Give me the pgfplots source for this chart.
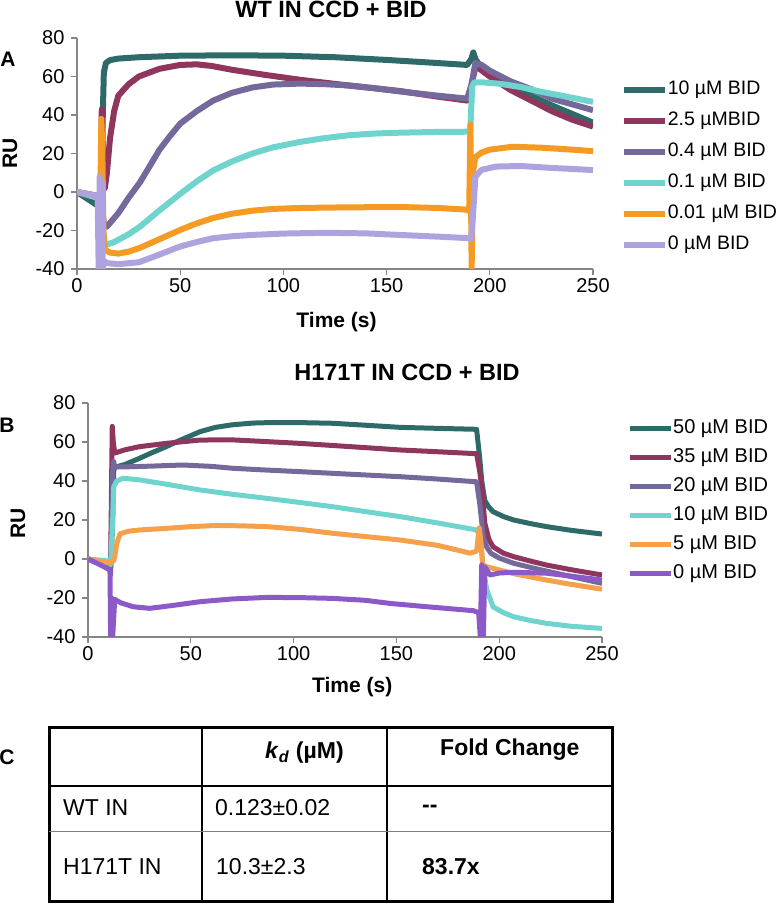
\documentclass[border=0pt]{standalone}
\usepackage{pgfplots}
\pgfplotsset{compat=1.18}
\usepackage{fontspec}
\setmainfont{Liberation Sans}
\definecolor{cTeal}{RGB}{46,107,104}
\definecolor{cMaroon}{RGB}{142,54,94}
\definecolor{cGrape}{RGB}{117,105,155}
\definecolor{cCyan}{RGB}{111,212,206}
\definecolor{cOrangeA}{RGB}{245,155,35}
\definecolor{cLav}{RGB}{174,163,222}
\definecolor{cOrangeB}{RGB}{245,160,75}
\definecolor{cViolet}{RGB}{140,90,200}
\definecolor{cAxis}{RGB}{134,134,134}
\pgfplotsset{
  panel/.style={
    scale only axis,
    axis x line*=bottom, axis y line*=left,
    axis line style={draw=cAxis, line width=1.3bp},
    tick style={draw=cAxis, line width=1.3bp},
    tick align=outside, major tick length=6bp,
    xmin=0, xmax=250, ymin=-40, ymax=80,
    xtick={0,50,...,250}, ytick={-40,-20,...,80},
    /pgf/number format/assume math mode=true,
    tick label style={font=\fontsize{20bp}{24bp}\selectfont},
    yticklabel style={xshift=-3bp},
    label style={font=\bfseries\fontsize{21bp}{25bp}\selectfont},
    legend cell align=left,
    legend image code/.code={\draw[##1, line cap=butt] (0bp,0bp) -- (41bp,0bp);},
    every axis plot/.append style={line join=round, no markers},
  },
}
\begin{document}
\begin{tikzpicture}[x=1bp,y=1bp]
\useasboundingbox (0,0) rectangle (778,905);
% ---------------- Panel A ----------------
\begin{axis}[panel,
  at={(77bp,636bp)}, anchor=south west,
  width=516bp, height=231bp,
  xlabel={Time (s)}, ylabel={RU},
  xlabel style={at={(axis description cs:0.503,-0.229)}, anchor=center},
  ylabel style={at={(axis description cs:-0.130,0.502)}, anchor=center},
  every axis plot/.append style={line width=6bp},
  legend style={at={(1.054,0.815)}, anchor=north west, draw=none, fill=none,
    inner sep=0pt, outer sep=0pt, row sep=13bp,
    font=\fontsize{19.5bp}{23bp}\selectfont,
    nodes={inner sep=0pt, text height=14bp, text depth=4bp},
    /tikz/every even column/.append style={column sep=2bp}},
]
\addplot[cTeal] coordinates {(0,0) (5,-3.5) (10,-7) (11.5,-7.5) (12.5,40) (13,62) (14,67) (16,68.5) (20,69.3) (30,70) (50,70.8) (75,71) (100,70.8) (125,70) (150,68.6) (170,67.3) (189,66) (191,69) (192,72.5) (193,69) (195,66) (200,62) (210,55.5) (221,49.5) (230,45) (240,40.5) (250,36)};
\addlegendentry{10 µM BID}
\addplot[cMaroon] coordinates {(0,0) (5,-1) (10,-2) (11.5,-3) (12,43) (12.5,20) (13.5,2) (14.5,10) (16,28) (18,42) (20,50) (25,56) (30,60) (40,64) (50,66) (58,66.3) (65,65.5) (75,63.5) (90,61) (108,58.3) (130,55.5) (156,52.5) (175,49.5) (189,47.5) (191,55) (193,65) (195,64) (200,60) (210,53) (221,47) (230,42) (240,37.5) (250,34)};
\addlegendentry{2.5 µMBID}
\addplot[cGrape] coordinates {(0,0) (10,-3) (12,-5) (13,-17) (14.5,-18) (20,-11) (25,-3) (30.5,5) (35,13) (40,22) (45,29) (50,35.5) (58,42) (66,47.5) (75,51.5) (85,54.3) (95,55.8) (108,56.3) (120,56) (132,55.3) (145,53.8) (156,52.3) (175,50) (189,48.5) (191,55) (193,67) (196,66) (200,63) (210,57.5) (221,53) (230,48.5) (240,45.5) (250,42.5)};
\addlegendentry{0.4 µM BID}
\addplot[cCyan] coordinates {(0,0) (10,-3) (12,-10) (13,-25) (14,-27.5) (18,-26) (25,-22) (30.5,-18) (40,-9.5) (50,-1) (58,5.5) (66,11.2) (75,15.8) (85,20) (95,23.2) (108,26) (120,28) (132,29.5) (145,30.4) (156.5,30.8) (175,31.2) (189,31.3) (190.5,31.5) (191.5,55) (192.5,57) (196,57) (205,56.2) (215,54.5) (225,52) (235,50) (250,46.8)};
\addlegendentry{0.1 µM BID}
\addplot[cOrangeA] coordinates {(0,0) (10,-2) (11.3,-3) (11.8,38) (12.3,20) (12.8,-20) (13.5,-30) (16,-31.5) (20,-32) (25,-31) (30.5,-29) (40,-24.5) (50,-19.7) (58,-16.3) (66,-13.5) (75,-11.3) (85,-9.7) (95,-8.8) (108,-8.3) (130,-8) (156,-7.8) (175,-8.3) (189,-9.2) (190,-10) (190.6,35) (191.2,-40) (191.8,10) (193,18) (196,20.5) (200,22) (211,23.5) (225,23) (240,22) (250,21.2)};
\addlegendentry{0.01\hspace{0.3em}µM BID}
\addplot[cLav] coordinates {(0,0) (10,-2) (10.5,-40) (11,8) (11.5,-40) (12,5) (12.5,-40) (13,-36) (15,-37) (20,-37.5) (30,-36.5) (40,-32.5) (50,-28.3) (58,-26) (66,-24) (75,-23) (85,-22.3) (100,-21.6) (120,-21.2) (140,-21.5) (156,-22.3) (175,-23.2) (190,-24) (191,-24.5) (192,-10) (193,8) (196,11.5) (203,13.2) (215,13.5) (230,12.5) (250,11.4)};
\addlegendentry{0 µM BID}
\end{axis}
% ---------------- Panel B ----------------
\begin{axis}[panel,
  at={(88bp,268bp)}, anchor=south west,
  width=514bp, height=234bp,
  xlabel={Time (s)}, ylabel={RU},
  xlabel style={at={(axis description cs:0.514,-0.214)}, anchor=center},
  ylabel style={at={(axis description cs:-0.136,0.487)}, anchor=center},
  every axis plot/.append style={line width=5bp},
  legend style={at={(1.049,0.93)}, anchor=north west, draw=none, fill=none,
    inner sep=0pt, outer sep=0pt, row sep=11bp,
    font=\fontsize{20bp}{23bp}\selectfont,
    nodes={inner sep=0pt, text height=14bp, text depth=4bp},
    /tikz/every even column/.append style={column sep=3bp}},
]
\addplot[cTeal] coordinates {(0,0) (5,-1) (10,-3) (11,-5) (12,20) (12.5,45) (13,47) (18,48.5) (25,51.6) (30,54) (38,57.6) (45,61) (54.5,65.3) (62,67.5) (70,68.8) (80,69.7) (90,70) (105,69.9) (119,69.6) (135,68.6) (152,67.5) (170,67) (189,66.5) (190.5,52) (191.5,40) (193,30) (195,26.5) (197,24.3) (202,21.8) (207,20) (215,18.2) (223,16.6) (235,14.7) (250,12.8)};
\addlegendentry{50 µM BID}
\addplot[cMaroon] coordinates {(0,0) (10,-3) (11,-2) (11.8,68) (12.3,60) (13,54.3) (18,56) (25,57.6) (38,59.3) (54.5,61) (70,61.1) (85,60.3) (103,59.3) (125,57.8) (152,55.9) (170,55) (189,54) (190.5,45) (191.5,37) (193,18.3) (195,10) (197,6.3) (202,3) (207,1.2) (215,-1) (223,-3.1) (235,-5.5) (250,-8.2)};
\addlegendentry{35 µM BID}
\addplot[cGrape] coordinates {(0,0) (10,-3) (11,-8) (12,45) (12.5,50) (13,47.3) (20,47.3) (30,47.6) (46,48.2) (60,47.5) (70.7,46.5) (85,45.7) (103,44.8) (125,43.6) (152,42.2) (170,41) (189,39.6) (190.5,28.5) (192.3,11.4) (194,6) (196,2.9) (200,0.5) (207,-2.2) (220,-5.5) (235,-9) (250,-12.5)};
\addlegendentry{20 µM BID}
\addplot[cCyan] coordinates {(0,0) (10,-1) (11,-3) (12,20) (12.5,37) (14,40) (17,41.4) (25,40.6) (40,38) (54.5,35.4) (70,33.2) (87,31.1) (103,29) (119,26.8) (135,24.3) (152,21.7) (170,18.5) (189,14.9) (190.5,12) (191.5,3) (192.3,-5.6) (194,-15.9) (197,-24.5) (202,-27.5) (207,-29.6) (215,-31.5) (223,-33) (235,-34.5) (250,-35.6)};
\addlegendentry{10 µM BID}
\addplot[cOrangeB] coordinates {(0,0) (10,-2) (12.5,-1) (13,1.2) (14,8) (15.6,13) (20,14.3) (25.3,14.9) (38,15.7) (50,16.6) (62.6,17.2) (75,17) (87,16.6) (103,15.2) (119,13.2) (135,11.5) (152,9.7) (170,7) (185.8,3) (189,4) (190.3,16) (191,10) (192,-3) (194,-4) (197,-4.8) (207,-7.5) (223,-10.8) (235,-13) (250,-15.5)};
\addlegendentry{5 µM BID}
\addplot[cViolet] coordinates {(0,0) (5,-2.5) (10.7,-5.6) (11,-40) (11.5,-20) (12,-40) (13,-20.7) (16,-22.5) (22,-24.5) (30,-25.3) (40,-24) (54.5,-21.9) (70,-20.5) (87,-19.7) (103,-19.8) (119,-20.2) (135,-21.2) (147,-22.8) (165,-24.5) (187.4,-26.5) (190,-27.5) (190.8,-40) (191.5,-3) (192.3,-40) (193,-4) (195.5,-8.2) (200,-7.2) (206.8,-6.8) (223,-7.3) (235,-8.8) (250,-10.8)};
\addlegendentry{0 µM BID}
\end{axis}
% ---------------- Titles and panel letters ----------------
\node[font=\bfseries\fontsize{23.5bp}{27bp}\selectfont] at (331,896) {WT IN CCD + BID};
\node[font=\bfseries\fontsize{23.5bp}{27bp}\selectfont] at (407,533) {H171T IN CCD + BID};
\node[font=\bfseries\fontsize{21bp}{25bp}\selectfont] at (8,846) {A};
\node[font=\bfseries\fontsize{21bp}{25bp}\selectfont] at (7,480) {B};
\node[font=\bfseries\fontsize{21bp}{25bp}\selectfont] at (7,148) {C};
% ---------------- Table C ----------------
\draw[line width=3bp, black] (49,177) rectangle (612,3);
\draw[line width=2.2bp, black] (202,177) -- (202,3);
\draw[line width=2.2bp, black] (387,177) -- (387,3);
\draw[line width=2.2bp, black] (49,119) -- (612,119);
\draw[line width=1bp, gray] (49,73) -- (612,73);
\begin{scope}[every node/.style={font=\fontsize{23bp}{27bp}\selectfont, inner sep=0pt}]
\node[anchor=west, font=\bfseries\fontsize{23bp}{27bp}\selectfont] at (265,152) {\textit{k}\textsubscript{\textit{d}} (µM)};
\node[anchor=west, font=\bfseries\fontsize{23bp}{27bp}\selectfont] at (440,155) {Fold Change};
\node[anchor=west] at (63,97) {WT IN};
\node[anchor=west] at (215,97) {0.123±0.02};
\node[anchor=west, font=\bfseries\fontsize{23bp}{27bp}\selectfont] at (422,96) {-{}-};
\node[anchor=west] at (63,38) {H171T IN};
\node[anchor=west] at (216,38) {10.3±2.3};
\node[anchor=west, font=\bfseries\fontsize{23bp}{27bp}\selectfont] at (422,38) {83.7x};
\end{scope}
\end{tikzpicture}
\end{document}
